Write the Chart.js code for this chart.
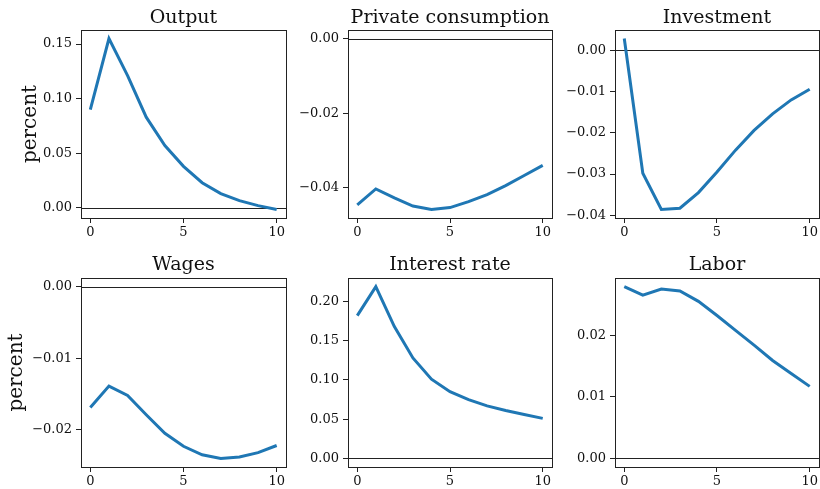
<!DOCTYPE html>
<html>
<head>
<meta charset="utf-8">
<script src="https://cdn.jsdelivr.net/npm/chart.js@4"></script>
<style>
  html, body { margin: 0; padding: 0; background: #fff; }
  #wrap { position: relative; width: 820px; height: 489px; }
  canvas { position: absolute; }
</style>
</head>
<body>
<div id="wrap">
  <canvas id="c0"></canvas>
  <canvas id="c1"></canvas>
  <canvas id="c2"></canvas>
  <canvas id="c3"></canvas>
  <canvas id="c4"></canvas>
  <canvas id="c5"></canvas>
</div>
<script>
// Horizon (x) and tick values
const periods = [0, 1, 2, 3, 4, 5, 6, 7, 8, 9, 10];
const xTicks  = [0, 5, 10];

// Impulse responses (percent)
const output       = [0.090, 0.155, 0.121, 0.083, 0.057, 0.038, 0.023, 0.013, 0.0066, 0.002, -0.0015];
const consumption  = [-0.0446, -0.0403, -0.0427, -0.0449, -0.0458, -0.0453, -0.0437, -0.0418, -0.0394, -0.0367, -0.0340];
const investment   = [0.0029, -0.0298, -0.0386, -0.0383, -0.0345, -0.0295, -0.0242, -0.0194, -0.0154, -0.0120, -0.0094];
const wages        = [-0.0169, -0.0139, -0.0152, -0.0179, -0.0205, -0.0223, -0.0235, -0.0240, -0.0238, -0.0232, -0.0222];
const interestRate = [0.182, 0.219, 0.168, 0.128, 0.101, 0.085, 0.075, 0.067, 0.061, 0.056, 0.051];
const labor        = [0.0279, 0.0265, 0.0275, 0.0272, 0.0255, 0.0232, 0.0208, 0.0184, 0.0159, 0.0138, 0.0117];

const titles = ['Output', 'Private consumption', 'Investment', 'Wages', 'Interest rate', 'Labor'];

const yTicksOutput      = [0.00, 0.05, 0.10, 0.15];
const yTicksConsumption = [-0.04, -0.02, 0.00];
const yTicksInvestment  = [-0.04, -0.03, -0.02, -0.01, 0.00];
const yTicksWages       = [-0.02, -0.01, 0.00];
const yTicksInterest    = [0.00, 0.05, 0.10, 0.15, 0.20];
const yTicksLabor       = [0.00, 0.01, 0.02];

const SERIF = "'DejaVu Serif', 'Liberation Serif', serif";
const INK   = '#111';

// Panel geometry: canvas box, plot-area edges inside it, title baseline
const panels = [
  { values: output,       yTicks: yTicksOutput,      box: [0,   0,   290, 245], plotLeft: 81, padRight: 4, padTop: 30, titleY: 23, xH: 27, ylabel: 19 },
  { values: consumption,  yTicks: yTicksConsumption, box: [290, 0,   265, 245], plotLeft: 58, padRight: 3, padTop: 30, titleY: 23, xH: 27 },
  { values: investment,   yTicks: yTicksInvestment,  box: [555, 0,   265, 245], plotLeft: 60, padRight: 1, padTop: 30, titleY: 23, xH: 27 },
  { values: wages,        yTicks: yTicksWages,       box: [0,   245, 290, 244], plotLeft: 81, padRight: 4, padTop: 33, titleY: 25, xH: 22, ylabel: 5 },
  { values: interestRate, yTicks: yTicksInterest,    box: [290, 245, 265, 244], plotLeft: 58, padRight: 3, padTop: 33, titleY: 25, xH: 22 },
  { values: labor,        yTicks: yTicksLabor,       box: [555, 245, 265, 244], plotLeft: 60, padRight: 1, padTop: 33, titleY: 25, xH: 22 },
];

// matplotlib-style label: two decimals with a real minus sign
const fmt = v => (v < 0 ? '\u2212' : '') + Math.abs(v).toFixed(2);

// Zero line under the series, full frame and centred title on top
const framePlugin = {
  id: 'frame',
  beforeDatasetsDraw(chart) {
    const { ctx, chartArea: a, scales: { y } } = chart;
    const y0 = Math.round(y.getPixelForValue(0)) + 0.5;
    ctx.save();
    ctx.strokeStyle = '#222';
    ctx.lineWidth   = 1;
    ctx.beginPath();
    ctx.moveTo(a.left, y0);
    ctx.lineTo(a.right, y0);
    ctx.stroke();
    ctx.restore();
  },
  afterDraw(chart, args, opts) {
    const { ctx, chartArea: a } = chart;
    ctx.save();
    ctx.strokeStyle = '#222';
    ctx.lineWidth   = 1;
    ctx.strokeRect(Math.round(a.left) + 0.5, Math.round(a.top) + 0.5,
                   Math.round(a.right - a.left), Math.round(a.bottom - a.top));
    ctx.fillStyle    = INK;
    ctx.font         = '19px ' + SERIF;
    ctx.textAlign    = 'center';
    ctx.textBaseline = 'alphabetic';
    ctx.fillText(opts.text, (a.left + a.right) / 2, opts.baseline);
    ctx.restore();
  },
};

panels.forEach((p, i) => {
  const canvas = document.getElementById('c' + i);
  const [bx, by, bw, bh] = p.box;
  canvas.style.left = bx + 'px';
  canvas.style.top  = by + 'px';
  canvas.width  = bw;
  canvas.height = bh;

  // y range as matplotlib autoscale: data plus the zero line, 5% margins
  const lo = Math.min(0, ...p.values);
  const hi = Math.max(0, ...p.values);
  const m  = (hi - lo) * 0.05;

  new Chart(canvas.getContext('2d'), {
    type: 'line',
    data: {
      datasets: [{
        data:        periods.map((t, k) => ({ x: t, y: p.values[k] })),
        borderColor: '#1f77b4',
        borderWidth: 3,
        pointRadius: 0,
        tension:     0,
        fill:        false,
      }],
    },
    plugins: [framePlugin],
    options: {
      responsive: false,
      animation:  false,
      layout:     { padding: { top: p.padTop, left: 0, bottom: 0, right: p.padRight } },
      plugins: {
        legend:  { display: false },
        tooltip: { enabled: false },
        frame:   { text: titles[i], baseline: p.titleY },
      },
      scales: {
        x: {
          type: 'linear',
          min:  -0.5,
          max:  10.5,
          afterFit:        s => { s.height = p.xH; },
          afterBuildTicks: s => { s.ticks = xTicks.map(v => ({ value: v })); },
          grid:   { drawOnChartArea: false, tickLength: 5, tickColor: '#222', tickWidth: 1 },
          border: { display: false },
          ticks:  { color: INK, font: { family: SERIF, size: 13 }, padding: 2, maxRotation: 0, callback: v => String(v) },
        },
        y: {
          type: 'linear',
          min:  lo - m,
          max:  hi + m,
          afterFit:        s => { s.width = p.plotLeft; },
          afterBuildTicks: s => { s.ticks = p.yTicks.map(v => ({ value: v })); },
          grid:   { drawOnChartArea: false, tickLength: 5, tickColor: '#222', tickWidth: 1 },
          border: { display: false },
          ticks:  { color: INK, font: { family: SERIF, size: 13 }, padding: 4, callback: v => fmt(v) },
          title: {
            display: p.ylabel !== undefined,
            text:    'percent',
            color:   INK,
            font:    { family: SERIF, size: 20, lineHeight: 1.2 },
            padding: { top: p.ylabel || 0, bottom: 0 },
          },
        },
      },
    },
  });
});
</script>
</body>
</html>
